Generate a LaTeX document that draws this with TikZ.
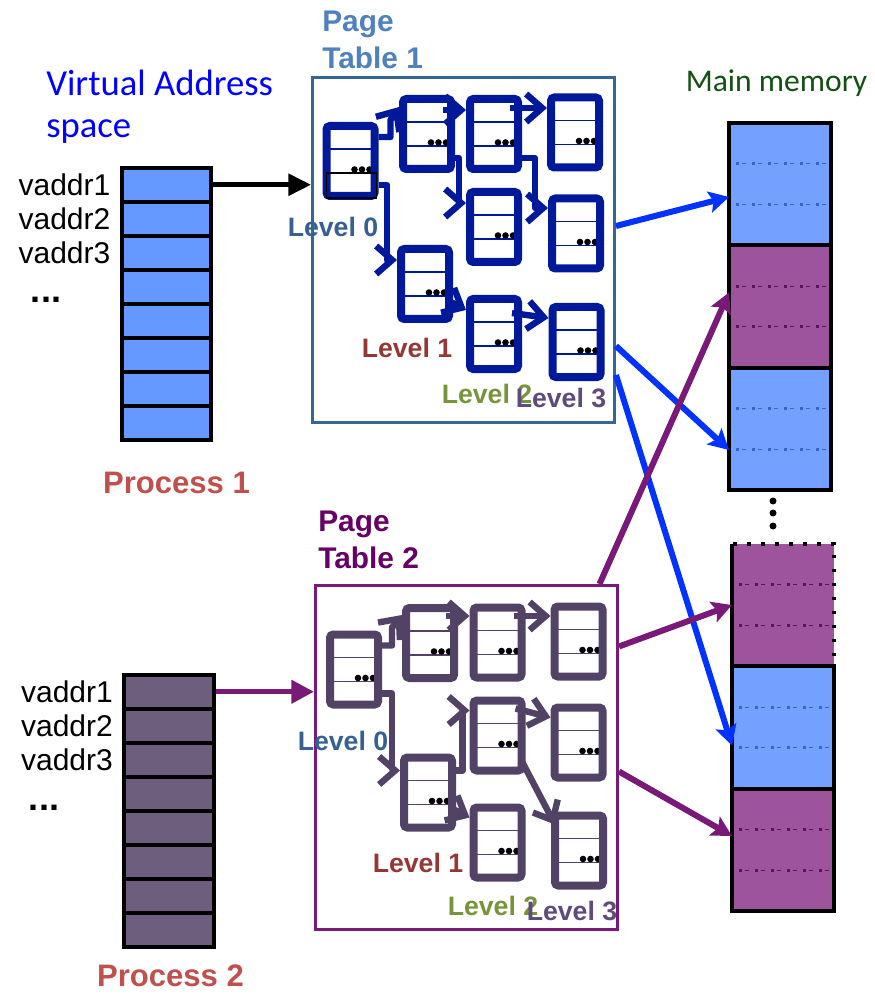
\documentclass[tikz,border=0pt]{standalone}
\usepackage{fontspec}
\setmainfont{Liberation Sans}
\newfontfamily\calibri{Carlito}
\usetikzlibrary{arrows.meta, positioning}

\definecolor{procblue}{RGB}{102,153,255}
\definecolor{procgray}{RGB}{108,94,124}
\definecolor{memblue}{RGB}{116,161,255}
\definecolor{mempurple}{RGB}{157,84,156}
\definecolor{memblueline}{RGB}{51,102,204}
\definecolor{mempurpleline}{RGB}{92,20,92}
\definecolor{ptblue}{RGB}{0,25,155}
\definecolor{ptgray}{RGB}{82,67,102}
\definecolor{boxblue}{RGB}{52,102,153}
\definecolor{arrowblue}{RGB}{0,51,255}
\definecolor{arrowpurple}{RGB}{122,26,120}
\definecolor{procred}{RGB}{192,80,77}
\definecolor{titleblue}{RGB}{79,129,189}
\definecolor{titlepurple}{RGB}{102,0,102}
\definecolor{lvlzero}{RGB}{55,96,146}
\definecolor{lvlone}{RGB}{149,55,53}
\definecolor{lvltwo}{RGB}{119,147,60}
\definecolor{lvlthree}{RGB}{96,74,123}
\definecolor{memgreen}{RGB}{20,80,20}

\begin{document}
\begin{tikzpicture}[x = 0.75pt, y = -0.75pt,
		vrow/.style = {draw = black, line width = 2.8pt, fill = #1, minimum width = 67pt, minimum height = 25.5pt, inner sep = 0pt},
		vlab/.style = {font = \fontsize{22.5}{26}\selectfont, inner sep = 0pt},
		pg/.style = {draw = #1, line width = 6pt, rounded corners = 2.5pt, fill = white, minimum width = 36pt, minimum height = 52.5pt, inner sep = 0pt,
			path picture = {
				\draw[#1, line width = 0.9pt] ([shift = {(-40, -12)}]path picture bounding box.center) -- ++(80, 0);
				\draw[#1, line width = 0.9pt] ([shift = {(-40, 12)}]path picture bounding box.center) -- ++(80, 0);
				\fill[black] ([shift = {(4, 8.5)}]path picture bounding box.center) circle (3.3) ++(7.5, 0) circle (3.3) ++(7.5, 0) circle (3.3);
			}},
		lk/.style = {draw = #1, line width = 4.8pt, line join = round, -{Straight Barb[length = 12pt, width = 21pt]}},
		mem/.style 2 args = {draw = black, line width = 3pt, fill = #1, minimum width = 76.5pt, minimum height = 91.9pt, inner sep = 0pt, outer sep = 0pt,
			path picture = {
				\draw[#2, line width = 0.7pt, dash pattern = on 3pt off 9pt, dash phase = -4.5pt] ([shift = {(-60, -20.4)}]path picture bounding box.center) -- ++(120, 0);
				\draw[#2, line width = 2.2pt, dash pattern = on 2.2pt off 9.8pt] ([shift = {(-60, -20.4)}]path picture bounding box.center) -- ++(120, 0);
				\draw[#2, line width = 0.7pt, dash pattern = on 3pt off 9pt, dash phase = -4.5pt] ([shift = {(-60, 20.4)}]path picture bounding box.center) -- ++(120, 0);
				\draw[#2, line width = 2.2pt, dash pattern = on 2.2pt off 9.8pt] ([shift = {(-60, 20.4)}]path picture bounding box.center) -- ++(120, 0);
			}},
		memdot/.style = {dash pattern = on 2.5pt off 8pt},
		ma/.style = {draw = #1, line width = 4.5pt, -{Stealth[length = 15pt, width = 16pt, inset = 3pt]}},
		title/.style = {font = \bfseries\fontsize{22.4}{28}\selectfont, align = left, inner sep = 0pt, anchor = west},
		plab/.style = {font = \bfseries\fontsize{23.3}{28}\selectfont, text = procred, inner sep = 0pt, anchor = base},
		lvl/.style = {font = \bfseries\fontsize{20}{24}\selectfont, text = #1, inner sep = 0pt, anchor = base}]
		\useasboundingbox (0, 0) rectangle (874, 994);
		%%%%%%%%%%%%% virtual address spaces
		\node[font = \calibri\fontsize{27.5}{31.5}\selectfont, text = blue, align = left, anchor = west, inner sep = 0pt] (vas) at (46, 107) {Virtual Address\\space};
		\node[vrow = procblue] (pa1) at (166.5, 184.75) {};
		\node[vrow = procblue] (pa2) at (166.5, 218.75) {};
		\node[vrow = procblue] (pa3) at (166.5, 252.75) {};
		\node[vrow = procblue] (pa4) at (166.5, 286.75) {};
		\node[vrow = procblue] (pa5) at (166.5, 320.75) {};
		\node[vrow = procblue] (pa6) at (166.5, 354.75) {};
		\node[vrow = procblue] (pa7) at (166.5, 388.75) {};
		\node[vrow = procblue] (pa8) at (166.5, 422.75) {};
		\node[vlab, left = 7pt of pa1] (va1) {vaddr1};
		\node[vlab, left = 7pt of pa2] (va2) {vaddr2};
		\node[vlab, left = 7pt of pa3] (va3) {vaddr3};
		\node[vlab, font = \bfseries\fontsize{27}{30}\selectfont, anchor = base] (va4) at (46, 303) {...};
		\node[plab] (pr1) at (176.5, 493) {Process 1};
		%%%%%%%%%%%%%
		\node[vrow = procgray] (pb1) at (169, 691.75) {};
		\node[vrow = procgray] (pb2) at (169, 725.75) {};
		\node[vrow = procgray] (pb3) at (169, 759.75) {};
		\node[vrow = procgray] (pb4) at (169, 793.75) {};
		\node[vrow = procgray] (pb5) at (169, 827.75) {};
		\node[vrow = procgray] (pb6) at (169, 861.75) {};
		\node[vrow = procgray] (pb7) at (169, 895.75) {};
		\node[vrow = procgray] (pb8) at (169, 929.75) {};
		\node[vlab, left = 7pt of pb1] (vb1) {vaddr1};
		\node[vlab, left = 7pt of pb2] (vb2) {vaddr2};
		\node[vlab, left = 7pt of pb3] (vb3) {vaddr3};
		\node[vlab, font = \bfseries\fontsize{27}{30}\selectfont, anchor = base] (vb4) at (44, 810) {...};
		\node[plab] (pr2) at (170.5, 986) {Process 2};
		%%%%%%%%%%%%% page table 1
		\node[title, text = titleblue] (ptl1) at (322, 40) {Page\\Table 1};
		\node[draw = boxblue, line width = 2.2pt, minimum width = 226.5pt, minimum height = 258.8pt, inner sep = 0pt] (pt1) at (463.5, 250) {};
		\node[pg = ptblue] (p1l0) at (350.5, 161) {};
		\node[pg = ptblue] (p1l1a) at (427, 134) {};
		\node[pg = ptblue] (p1l1b) at (425, 284) {};
		\node[pg = ptblue] (p1l2a) at (494, 134) {};
		\node[pg = ptblue] (p1l2b) at (494, 227) {};
		\node[pg = ptblue] (p1l2c) at (494, 334) {};
		\node[pg = ptblue] (p1l3a) at (575, 132.5) {};
		\node[pg = ptblue] (p1l3b) at (576, 233.5) {};
		\node[pg = ptblue] (p1l3c) at (576.5, 342) {};
		\draw[line width = 0.8pt] ([shift = {(-24, 12)}]p1l0.center) rectangle ([shift = {(26, 37)}]p1l0.center);
		\draw[lk = ptblue] ([shift = {(0, -24)}]p1l0.east) -| ++(12, -17) -- ([shift = {(0, -27)}]p1l1a.west);
		\draw[lk = ptblue] ([shift = {(0, 24)}]p1l0.east) -| ([shift = {(-10, -24)}]p1l1b.west) -- ([shift = {(0, -24)}]p1l1b.west);
		\draw[lk = ptblue] ([shift = {(-12, -24)}]p1l1a.east) -- ([shift = {(0, -24)}]p1l2a.west);
		\draw[lk = ptblue] ([shift = {(0, 24)}]p1l1a.east) -| ([shift = {(-7, -24)}]p1l2b.west) -- ([shift = {(0, -24)}]p1l2b.west);
		\draw[lk = ptblue] ([shift = {(-12, -26)}]p1l2a.east) -- ([shift = {(0, -24.5)}]p1l3a.west);
		\draw[lk = ptblue] ([shift = {(0, 24)}]p1l2a.east) -| ([shift = {(-13, -25.5)}]p1l3b.west) -- ([shift = {(0, -25.5)}]p1l3b.west);
		\draw[lk = ptblue] ([shift = {(-6, 16)}]p1l1b.east) -- ([shift = {(0, -24)}]p1l2c.west);
		\draw[lk = ptblue] ([shift = {(-10, -21)}]p1l2c.east) -- ([shift = {(0, -24)}]p1l3c.west);
		\node[lvl = lvlzero] (lz1) at (333, 237) {Level 0};
		\node[lvl = lvlone] (lo1) at (407, 358) {Level 1};
		\node[lvl = lvltwo] (lt1) at (487, 403) {Level 2};
		\node[lvl = lvlthree] (lh1) at (561, 407) {Level 3};
		%%%%%%%%%%%%% page table 2
		\node[title, text = titlepurple] (ptl2) at (318, 540) {Page\\Table 2};
		\node[draw = arrowpurple, line width = 2.2pt, minimum width = 226.5pt, minimum height = 258pt, inner sep = 0pt] (pt2) at (466.5, 757.5) {};
		\node[pg = ptgray] (p2l0) at (354, 669.5) {};
		\node[pg = ptgray] (p2l1a) at (430, 643) {};
		\node[pg = ptgray] (p2l1b) at (428, 792.5) {};
		\node[pg = ptgray] (p2l2a) at (497.5, 642.5) {};
		\node[pg = ptgray] (p2l2b) at (497.5, 735.5) {};
		\node[pg = ptgray] (p2l2c) at (497.5, 842.5) {};
		\node[pg = ptgray] (p2l3a) at (578.5, 641.5) {};
		\node[pg = ptgray] (p2l3b) at (578.5, 742.5) {};
		\node[pg = ptgray] (p2l3c) at (579, 850.5) {};
		\draw[lk = ptgray] ([shift = {(0, -24)}]p2l0.east) -| ++(10, -18) -- ([shift = {(0, -28)}]p2l1a.west);
		\draw[lk = ptgray] ([shift = {(0, 24)}]p2l0.east) -| ([shift = {(-8, -22)}]p2l1b.west) -- ([shift = {(0, -22)}]p2l1b.west);
		\draw[lk = ptgray] ([shift = {(-12, -27)}]p2l1a.east) -- ([shift = {(0, -26.5)}]p2l2a.west);
		\draw[lk = ptgray] ([shift = {(-12, -26.5)}]p2l2a.east) -- ([shift = {(0, -25.5)}]p2l3a.west);
		\draw[lk = ptgray] ([shift = {(0, -22)}]p2l1b.east) -| ([shift = {(-7, -25)}]p2l2b.west) -- ([shift = {(0, -25)}]p2l2b.west);
		\draw[lk = ptgray] ([shift = {(-10, -27)}]p2l2b.east) -- ([shift = {(0, -25)}]p2l3b.west);
		\draw[lk = ptgray] ([shift = {(-3, 27)}]p2l2b.east) -- ([shift = {(4, -26)}]p2l3c.west);
		\draw[lk = ptgray] ([shift = {(-4, 16)}]p2l1b.east) -- ([shift = {(0, -25)}]p2l2c.west);
		\node[lvl = lvlzero] (lz2) at (343, 750) {Level 0};
		\node[lvl = lvlone] (lo2) at (418, 872) {Level 1};
		\node[lvl = lvltwo] (lt2) at (493, 915) {Level 2};
		\node[lvl = lvlthree] (lh2) at (572, 920) {Level 3};
		%%%%%%%%%%%%% main memory
		\node[font = \calibri\fontsize{23.7}{28}\selectfont, text = memgreen, anchor = base, inner sep = 0pt] (mm) at (776.5, 92) {Main memory};
		\node[mem = {memblue}{memblueline}] (mem1) at (780, 184) {};
		\node[mem = {mempurple}{mempurpleline}] (mem2) at (780, 306.5) {};
		\node[mem = {memblue}{memblueline}] (mem3) at (780, 429) {};
		\node[mem = {mempurple}{mempurpleline}, memdot] (mem4) at (783, 605) {};
		\node[mem = {memblue}{memblueline}] (mem5) at (783, 727.5) {};
		\node[mem = {mempurple}{mempurpleline}] (mem6) at (783, 850) {};
		\draw[line width = 3pt] (mem4.north west) -- (mem4.south west);
		\fill (773, 501) circle (3.5) (773, 513) circle (3.5) (773, 526) circle (3.5);
		%%%%%%%%%%%%% arrows
		\draw[line width = 3.5pt, -{Triangle[length = 17pt, width = 16pt]}] (pa1.east) -- (pa1.east -| pt1.west);
		\draw[draw = arrowpurple, line width = 4pt, -{Triangle[length = 17pt, width = 17pt]}] (pb1.east) -- (pb1.east -| pt2.west);
		\draw[ma = arrowblue] ([shift = {(0, -24)}]pt1.east) -- ([shift = {(0, 13)}]mem1.west);
		\draw[ma = arrowblue] ([shift = {(0, 96)}]pt1.east) -- ([shift = {(0, 21)}]mem3.west);
		\draw[ma = arrowblue] ([shift = {(0, 125)}]pt1.east) -- ([shift = {(0, 18)}]mem5.west);
		\draw[ma = arrowpurple] ([shift = {(133, 0)}]pt2.north) -- ([shift = {(0, -14)}]mem2.west);
		\draw[ma = arrowpurple] ([shift = {(0, -111)}]pt2.east) -- (mem4.west);
		\draw[ma = arrowpurple] ([shift = {(0, 14)}]pt2.east) -- ([shift = {(0, -14)}]mem6.west);
\end{tikzpicture}
\end{document}
